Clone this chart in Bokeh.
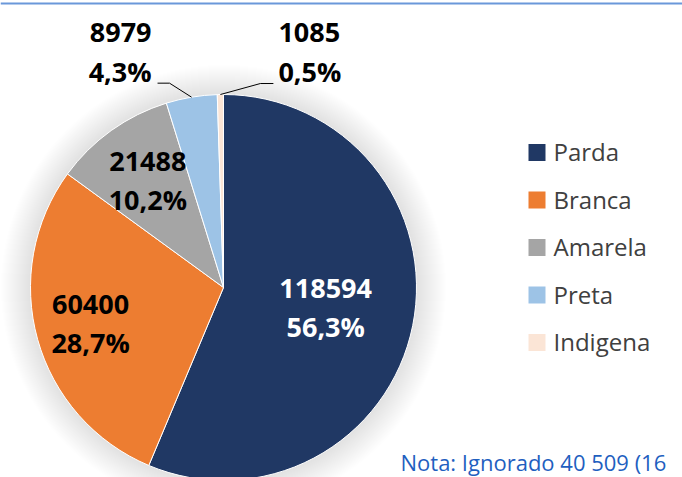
import math
from bokeh.plotting import figure
from bokeh.models import Range1d, ColumnDataSource, Span
from bokeh.embed import file_html
from bokeh.resources import INLINE
from bokeh.core.properties import value

# ---- data ----
categories = ["Parda", "Branca", "Amarela", "Preta", "Indigena"]
counts = [118594, 60400, 21488, 8979, 1085]
colors = ["#203864", "#ED7D31", "#A5A5A5", "#9DC3E6", "#FBE5D6"]
note_text = "Nota: Ignorado 40 509 (16"

# ---- layout ----
W, H = 682, 477
CX, CY, R = 223, H - 287, 193
FONT = "Open Sans"
LAB_OFF = 11      # baseline correction for 27px labels
LEG_OFF = 9.5     # baseline correction for 24px legend text

total = sum(counts)
fracs = [c / total for c in counts]
cum = [0.0]
for f in fracs:
    cum.append(cum[-1] + f)
start_a = [math.pi / 2 - 2 * math.pi * cum[i] for i in range(len(counts))]
end_a = [math.pi / 2 - 2 * math.pi * cum[i + 1] for i in range(len(counts))]
mid = [2 * math.pi * (cum[i] + fracs[i] / 2) for i in range(len(counts))]
pcts = [f"{f * 100:.1f}".replace(".", ",") + "%" for f in fracs]
vals = [str(c) for c in counts]

p = figure(width=W, height=H, x_range=Range1d(0, W), y_range=Range1d(0, H),
           output_backend="svg", toolbar_location=None,
           x_axis_location=None, y_axis_location=None, min_border=0,
           outline_line_color=None)
p.grid.visible = False
p.background_fill_color = "white"
p.border_fill_color = "white"

# top rule
p.add_layout(Span(location=H - 3, dimension="width", line_color="#6A98DA", line_width=2))

# soft shadow around the pie
ks = list(range(1, 31))
p.circle(x=[CX] * len(ks), y=[CY] * len(ks), radius=[R + k for k in ks],
         fill_color="black", fill_alpha=0.0045, line_color=None)

src = ColumnDataSource(dict(cat=categories, count=counts, color=colors,
                            s=end_a, e=start_a))
p.wedge(x=CX, y=CY, radius=R, start_angle="s", end_angle="e",
        direction="anticlock", fill_color="color", line_color="white",
        line_width=1, source=src)

# inner labels
lab_r = [0.54, 0.715, 0.674]
lab_col = ["white", "black", "black"]
for i in range(3):
    cx = CX + lab_r[i] * R * math.sin(mid[i])
    cy = CY + lab_r[i] * R * math.cos(mid[i])
    p.text(x=[cx, cx], y=[cy + 9 + LAB_OFF, cy - 29 + LAB_OFF], text=[vals[i], pcts[i]],
           text_font=value(FONT), text_font_style="bold", text_font_size="27px",
           text_color=lab_col[i], text_align="center", text_baseline="alphabetic")

# outer labels with leader lines
elbow = {3: (-22, 14), 4: (40, 11)}
tail = {3: -12, 4: 13}
for i in (3, 4):
    ex = CX + R * math.sin(mid[i])
    ey = CY + R * math.cos(mid[i])
    bx, by = ex + elbow[i][0], ey + elbow[i][1]
    tx = bx + tail[i]
    p.line(x=[ex, bx, tx], y=[ey, by, by], line_color="black", line_width=1)
    if i == 3:
        ax, align = tx - 6, "right"
    else:
        ax, align = tx + 5, "left"
    p.text(x=[ax, ax], y=[by + 40 + LAB_OFF, by + 1 + LAB_OFF], text=[vals[i], pcts[i]],
           text_font=value(FONT), text_font_style="bold", text_font_size="27px",
           text_color="black", text_align=align, text_baseline="alphabetic")

# legend
ly = [H - (152 + 47.5 * i) for i in range(len(categories))]
p.rect(x=[536.5] * len(categories), y=ly, width=17, height=17,
       fill_color=colors, line_color=None)
p.text(x=[553] * len(categories), y=[v - 8.5 + LEG_OFF for v in ly], text=categories,
       text_font=value(FONT), text_font_size="24px", text_color="#404040",
       text_align="left", text_baseline="alphabetic")

# note (kept fully inside the picture)
p.text(x=[400], y=[H - 471 + 0.42 * 22], text=[note_text],
       text_font=value(FONT), text_font_size="22px", text_color="#1F5FBF",
       text_align="left", text_baseline="alphabetic")

open("out.html", "w").write(file_html(p, INLINE))
